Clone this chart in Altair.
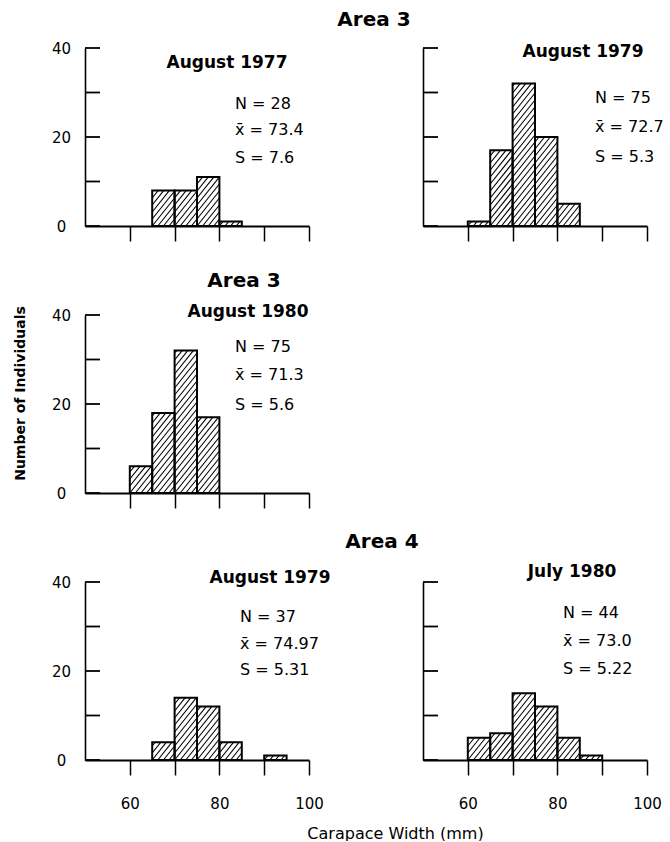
import math
import altair as alt
import pandas as pd

# ---------------- data ----------------
area_titles = ["Area 3", "Area 3", "Area 4"]
panel_dates = ["August 1977", "August 1979", "August 1980", "August 1979", "July 1980"]
panel_n = ["N = 28", "N = 75", "N = 75", "N = 37", "N = 44"]
panel_mean = ["x\u0304 = 73.4", "x\u0304 = 72.7", "x\u0304 = 71.3", "x\u0304 = 74.97", "x\u0304 = 73.0"]
panel_sd = ["S = 7.6", "S = 5.3", "S = 5.6", "S = 5.31", "S = 5.22"]

bin_width = 5
bin_starts_77 = [65, 70, 75, 80]
counts_77 = [8, 8, 11, 1]
bin_starts_79 = [60, 65, 70, 75, 80]
counts_79 = [1, 17, 32, 20, 5]
bin_starts_80 = [60, 65, 70, 75]
counts_80 = [6, 18, 32, 17]
bin_starts_a4_79 = [65, 70, 75, 80, 90]
counts_a4_79 = [4, 14, 12, 4, 1]
bin_starts_a4_80 = [60, 65, 70, 75, 80, 85]
counts_a4_80 = [5, 6, 15, 12, 5, 1]

x_ticks = [60, 70, 80, 90, 100]
y_ticks = [0, 10, 20, 30, 40]
y_tick_labels = [0, 20, 40]

bin_starts = [bin_starts_77, bin_starts_79, bin_starts_80, bin_starts_a4_79, bin_starts_a4_80]
counts = [counts_77, counts_79, counts_80, counts_a4_79, counts_a4_80]

# ---------------- styling / layout ----------------
FONT = "DejaVu Sans"
W, H = 224, 178
X_DOM = [50, 100]
Y_DOM = [0, 40]
SX = W / (X_DOM[1] - X_DOM[0])
SY = H / (Y_DOM[1] - Y_DOM[0])
HATCH_SLOPE = 1.25
HATCH_STEP = 7.0
YTICK_LEN = 15

# heading / statistics positions relative to each panel's plot origin (px)
text_pos = [
    dict(hx=142, hy=15, sx=150, sy=[56, 82, 110]),
    dict(hx=160, hy=4, sx=172, sy=[50, 79, 109]),
    dict(hx=163, hy=-3, sx=150, sy=[32, 60, 90]),
    dict(hx=185, hy=-4, sx=155, sy=[35, 62, 88]),
    dict(hx=149, hy=-10, sx=140, sy=[31, 59, 87]),
]


def hatch_segments(starts, heights):
    rows = []
    for s, h in zip(starts, heights):
        xa = (s - X_DOM[0]) * SX
        xb = (s + bin_width - X_DOM[0]) * SX
        top = h * SY
        bmin = -HATCH_SLOPE * xb
        bmax = top - HATCH_SLOPE * xa
        j = math.ceil(bmin / HATCH_STEP)
        while j * HATCH_STEP <= bmax:
            b = j * HATCH_STEP
            lo = max(xa, -b / HATCH_SLOPE)
            hi = min(xb, (top - b) / HATCH_SLOPE)
            if hi - lo > 0.4:
                rows.append({
                    "hx": lo / SX + X_DOM[0],
                    "hy": (HATCH_SLOPE * lo + b) / SY,
                    "hx2": hi / SX + X_DOM[0],
                    "hy2": (HATCH_SLOPE * hi + b) / SY,
                })
            j += 1
    return pd.DataFrame(rows)


def x_axis(show_labels, title=None, title_x=0, title_y=0):
    kw = dict(values=x_ticks, tickSize=15, tickWidth=1.5, tickColor="black",
              domainColor="black", domainWidth=2, grid=False,
              labels=show_labels, labelFlush=False, labelOverlap=False,
              labelExpr="datum.value % 20 == 0 ? datum.label : ''",
              labelFont=FONT, labelFontSize=15, labelColor="black", labelPadding=21,
              title=title)
    if title:
        kw.update(titleX=title_x, titleY=title_y, titleAlign="center", titleBaseline="middle",
                  titleFont=FONT, titleFontSize=16, titleFontWeight="normal", titleColor="black")
    return alt.Axis(**kw)


def y_axis(show_labels, title=None, title_x=0, title_y=0):
    kw = dict(values=y_tick_labels, ticks=False, domainColor="black", domainWidth=1.6,
              grid=False, labels=show_labels, labelFlush=False, labelOverlap=False,
              labelFont=FONT, labelFontSize=15, labelColor="black",
              labelAlign="center", labelBaseline="middle", labelPadding=24,
              title=title)
    if title:
        kw.update(titleX=title_x, titleY=title_y, titleAlign="center", titleBaseline="middle",
                  titleAngle=270, titleFont=FONT, titleFontSize=14, titleFontWeight="bold",
                  titleColor="black")
    return alt.Axis(**kw)


def label(text, px, py, size, weight, align="center"):
    return alt.Chart(pd.DataFrame({"label": [text]})).mark_text(
        font=FONT, fontSize=size, fontWeight=weight, align=align, baseline="middle", color="black"
    ).encode(x=alt.value(px), y=alt.value(py), text="label:N")


def panel(i, x_ax, y_ax, area=None):
    xs = alt.Scale(domain=X_DOM, nice=False, zero=False)
    ys = alt.Scale(domain=Y_DOM, nice=False, zero=True)
    bars = pd.DataFrame({
        "start": bin_starts[i],
        "end": [s + bin_width for s in bin_starts[i]],
        "count": counts[i],
    })
    hatch = hatch_segments(bin_starts[i], counts[i])
    ticks = pd.DataFrame({
        "tick": y_ticks,
        "t0": [X_DOM[0]] * len(y_ticks),
        "t1": [X_DOM[0] + YTICK_LEN / SX] * len(y_ticks),
    })
    layers = [
        alt.Chart(hatch).mark_rule(color="black", strokeWidth=1.1).encode(
            x=alt.X("hx:Q", scale=xs, axis=x_ax),
            y=alt.Y("hy:Q", scale=ys, axis=y_ax),
            x2="hx2:Q", y2="hy2:Q"),
        alt.Chart(bars).mark_rect(fill="white", fillOpacity=0, stroke="black", strokeWidth=2).encode(
            x=alt.X("start:Q", scale=xs, axis=x_ax), x2="end:Q",
            y=alt.Y("count:Q", scale=ys, axis=y_ax), y2=alt.datum(0)),
        alt.Chart(ticks).mark_rule(color="black", strokeWidth=1.8).encode(
            x=alt.X("t0:Q", scale=xs, axis=x_ax), x2="t1:Q",
            y=alt.Y("tick:Q", scale=ys, axis=y_ax)),
    ]
    p = text_pos[i]
    layers.append(label(panel_dates[i], p["hx"], p["hy"], 17, "bold"))
    layers.append(label(panel_n[i], p["sx"], p["sy"][0], 16, "normal", "left"))
    layers.append(label(panel_mean[i], p["sx"], p["sy"][1], 16, "normal", "left"))
    layers.append(label(panel_sd[i], p["sx"], p["sy"][2], 16, "normal", "left"))
    if area is not None:
        layers.append(label(area[0], area[1], area[2], 20, "bold"))
    return alt.layer(*layers).properties(width=W, height=H)


p1 = panel(0, x_axis(False), y_axis(True), area=(area_titles[0], 289, -28))
p2 = panel(1, x_axis(False), y_axis(False))
p3 = panel(2, x_axis(False), y_axis(True, "Number of Individuals", -65, 78),
           area=(area_titles[1], 159, -34))
p4 = panel(3, x_axis(True, "Carapace Width (mm)", 310, 73), y_axis(True),
           area=(area_titles[2], 297, -40))
p5 = panel(4, x_axis(True), y_axis(False))

blank = alt.Chart(pd.DataFrame({"a": [0]})).mark_point(opacity=0).encode(
    x=alt.value(0), y=alt.value(0)).properties(width=W, height=H)

chart = alt.concat(
    p1, p2, p3, blank, p4, p5,
    columns=2,
    spacing={"row": 89, "column": 114},
    bounds="flush",
).properties(
    padding={"left": 13, "top": 10, "right": 0, "bottom": 0},
    background="white",
).configure_view(strokeWidth=0)

chart.save("out.html", embed_options={"renderer": "svg", "actions": False})
